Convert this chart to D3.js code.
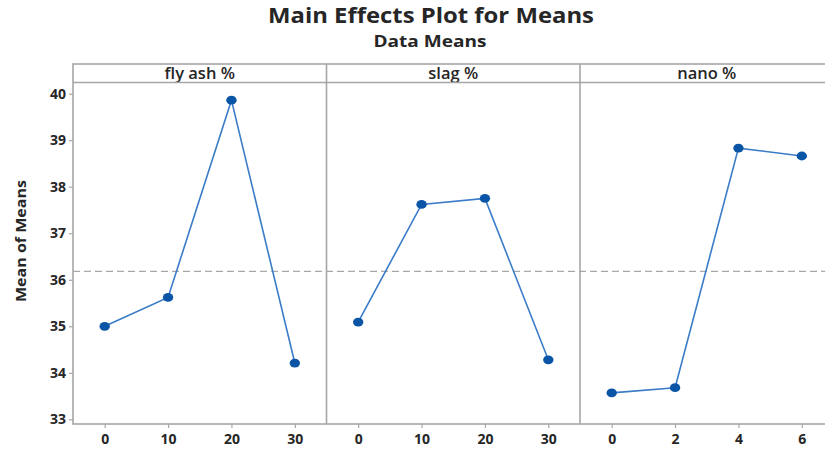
<!DOCTYPE html>
<html>
<head>
<meta charset="utf-8">
<script src="https://cdn.jsdelivr.net/npm/d3@7"></script>
<style>
  html, body { margin: 0; padding: 0; background: #fff; }
  svg { display: block; }
  text { font-family: "Open Sans", "Noto Sans", sans-serif; fill: #262626; }
</style>
</head>
<body>
<svg id="chart" width="825" height="450"></svg>
<script>
// Factor names and their levels
const factors = ["fly ash %", "slag %", "nano %"];
const flyAshLevels = [0, 10, 20, 30];
const slagLevels = [0, 10, 20, 30];
const nanoLevels = [0, 2, 4, 6];

// Mean of means at each level
const flyAshMeans = [35.00, 35.62, 39.86, 34.21];
const slagMeans = [35.09, 37.62, 37.75, 34.28];
const nanoMeans = [33.57, 33.68, 38.83, 38.66];

// Overall mean (reference line)
const grandMean = 36.18;

// Axis ticks
const yTicks = [33, 34, 35, 36, 37, 38, 39, 40];
const levelDomains = [[-5, 35], [-5, 35], [-1, 7]];

const panels = [
  { name: factors[0], levels: flyAshLevels, means: flyAshMeans, domain: levelDomains[0] },
  { name: factors[1], levels: slagLevels, means: slagMeans, domain: levelDomains[1] },
  { name: factors[2], levels: nanoLevels, means: nanoMeans, domain: levelDomains[2] }
];

const svg = d3.select("#chart");
const W = 825, H = 450;

const plotLeft = 73, plotTop = 64, stripH = 18.5, plotBottom = 424;
const panelW = 253.5;
const frameColor = "#a6a6a6";

const y = d3.scaleLinear().domain([32.9, 40.24]).range([plotBottom, plotTop + stripH]);

// Titles
svg.append("text").attr("x", 431).attr("y", 23).attr("text-anchor", "middle")
  .style("font-size", "21px").style("font-weight", 700)
  .attr("textLength", 326).attr("lengthAdjust", "spacingAndGlyphs")
  .text("Main Effects Plot for Means");
svg.append("text").attr("x", 430).attr("y", 47).attr("text-anchor", "middle")
  .style("font-size", "16px").style("font-weight", 700)
  .attr("textLength", 113).attr("lengthAdjust", "spacingAndGlyphs")
  .text("Data Means");

// Y axis title
svg.append("text")
  .attr("transform", `translate(26,${241}) rotate(-90)`)
  .attr("text-anchor", "middle")
  .style("font-size", "15px").style("font-weight", 700)
  .attr("textLength", 122).attr("lengthAdjust", "spacingAndGlyphs")
  .text("Mean of Means");

const clip = svg.append("defs").append("clipPath").attr("id", "frameClip");
clip.append("rect").attr("x", 0).attr("y", 0).attr("width", W).attr("height", H);

const g = svg.append("g").attr("clip-path", "url(#frameClip)");

// Y axis
const yAxis = d3.axisLeft(y).tickValues(yTicks).tickSize(4).tickPadding(3).tickFormat(d3.format("d"));
const yG = g.append("g").attr("transform", `translate(${plotLeft},0)`).call(yAxis);
yG.select(".domain").remove();
yG.selectAll(".tick line").attr("stroke", frameColor).attr("stroke-width", 1.2);
yG.selectAll(".tick text").style("font-size", "14px").style("font-weight", 700)
  .style("font-family", "'Open Sans', sans-serif").attr("fill", "#2a2a2a");

// Grand mean dashed reference line across all panels
g.append("line")
  .attr("x1", plotLeft).attr("x2", plotLeft + 3 * panelW)
  .attr("y1", y(grandMean)).attr("y2", y(grandMean))
  .attr("stroke", "#a8a8a8").attr("stroke-width", 1.4).attr("stroke-dasharray", "7,4");

panels.forEach((p, i) => {
  const x0 = plotLeft + i * panelW;
  const x = d3.scaleLinear().domain(p.domain).range([x0, x0 + panelW]);

  // Strip header
  g.append("text").attr("x", x0 + panelW / 2).attr("y", 79).attr("text-anchor", "middle")
    .style("font-size", "16.5px").style("font-weight", 600).text(p.name);

  // X axis
  const xAxis = d3.axisBottom(x).tickValues(p.levels).tickSize(4).tickPadding(6).tickFormat(d3.format("d"));
  const xG = g.append("g").attr("transform", `translate(0,${plotBottom})`).call(xAxis);
  xG.select(".domain").remove();
  xG.selectAll(".tick line").attr("stroke", frameColor).attr("stroke-width", 1.2);
  xG.selectAll(".tick text").style("font-size", "14px").style("font-weight", 700)
    .style("font-family", "'Open Sans', sans-serif").attr("fill", "#2a2a2a");

  const pts = p.levels.map((l, k) => [x(l), y(p.means[k])]);

  g.append("path")
    .attr("d", d3.line()(pts))
    .attr("fill", "none").attr("stroke", "#3a7cc8").attr("stroke-width", 1.6);

  g.selectAll(null).data(pts).enter().append("ellipse")
    .attr("cx", d => d[0]).attr("cy", d => d[1])
    .attr("rx", 5.2).attr("ry", 4.4)
    .attr("fill", "#0b55a6");
});

// Frame: outer border, strip separator and panel dividers
const frame = g.append("g").attr("fill", "none").attr("stroke", frameColor).attr("stroke-width", 1.6);
frame.append("rect").attr("x", plotLeft).attr("y", plotTop)
  .attr("width", 3 * panelW).attr("height", plotBottom - plotTop);
frame.append("line").attr("x1", plotLeft).attr("x2", plotLeft + 3 * panelW)
  .attr("y1", plotTop + stripH).attr("y2", plotTop + stripH);
[1, 2].forEach(k => {
  frame.append("line").attr("x1", plotLeft + k * panelW).attr("x2", plotLeft + k * panelW)
    .attr("y1", plotTop).attr("y2", plotBottom);
});
</script>
</body>
</html>
